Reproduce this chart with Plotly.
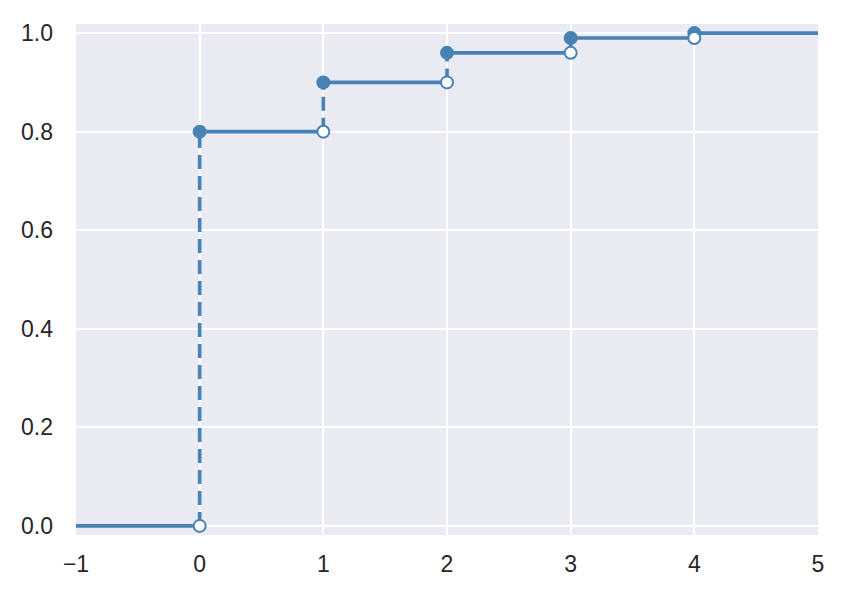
import plotly.graph_objects as go

# Data: step CDF values
support = [0, 1, 2, 3, 4]
cdf_vals = [0.8, 0.9, 0.96, 0.99, 1.0]
x_min, x_max = -1, 5
x_ticks = [-1, 0, 1, 2, 3, 4, 5]
x_tick_labels = ["\u22121", "0", "1", "2", "3", "4", "5"]
y_ticks = [0.0, 0.2, 0.4, 0.6, 0.8, 1.0]
y_tick_labels = ["0.0", "0.2", "0.4", "0.6", "0.8", "1.0"]

color = "#4682B4"
fig = go.Figure()

prev = [0.0] + cdf_vals[:-1]

# vertical dashed jumps
vx, vy = [], []
for k, lo, hi in zip(support, prev, cdf_vals):
    vx += [k, k, None]
    vy += [lo, hi, None]
fig.add_trace(go.Scatter(x=vx, y=vy, mode="lines",
                         line=dict(color=color, width=3.6, dash="14px,7px"),
                         hoverinfo="skip", showlegend=False))

# horizontal segments
edges = [x_min] + support + [x_max]
levels = [0.0] + cdf_vals
hx, hy = [], []
for i, lv in enumerate(levels):
    hx += [edges[i], edges[i + 1], None]
    hy += [lv, lv, None]
fig.add_trace(go.Scatter(x=hx, y=hy, mode="lines",
                         line=dict(color=color, width=3.6),
                         hoverinfo="skip", showlegend=False))

# filled markers
fig.add_trace(go.Scatter(x=support, y=cdf_vals, mode="markers",
                         marker=dict(color=color, size=14, line=dict(width=0)),
                         showlegend=False))
# open markers
fig.add_trace(go.Scatter(x=support, y=prev, mode="markers",
                         marker=dict(color="white", size=12,
                                     line=dict(color=color, width=2)),
                         showlegend=False))

fig.update_layout(
    width=845, height=598,
    margin=dict(l=68, r=35, t=12, b=71),
    paper_bgcolor="white",
    plot_bgcolor="#EAEAF2",
    font=dict(family="Liberation Sans, Arial, sans-serif", size=23, color="#262626"),
    showlegend=False,
)
fig.update_xaxes(range=[x_min, x_max], tickvals=x_ticks, ticktext=x_tick_labels,
                 showgrid=True, gridcolor="white", gridwidth=1.8, zeroline=False,
                 showline=False, ticks="", ticklabelstandoff=13)
fig.update_yaxes(range=[-0.0185, 1.0185], tickvals=y_ticks, ticktext=y_tick_labels,
                 showgrid=True, gridcolor="white", gridwidth=1.8, zeroline=False,
                 showline=False, ticks="", ticklabelstandoff=22)

fig.write_html("out.html")
